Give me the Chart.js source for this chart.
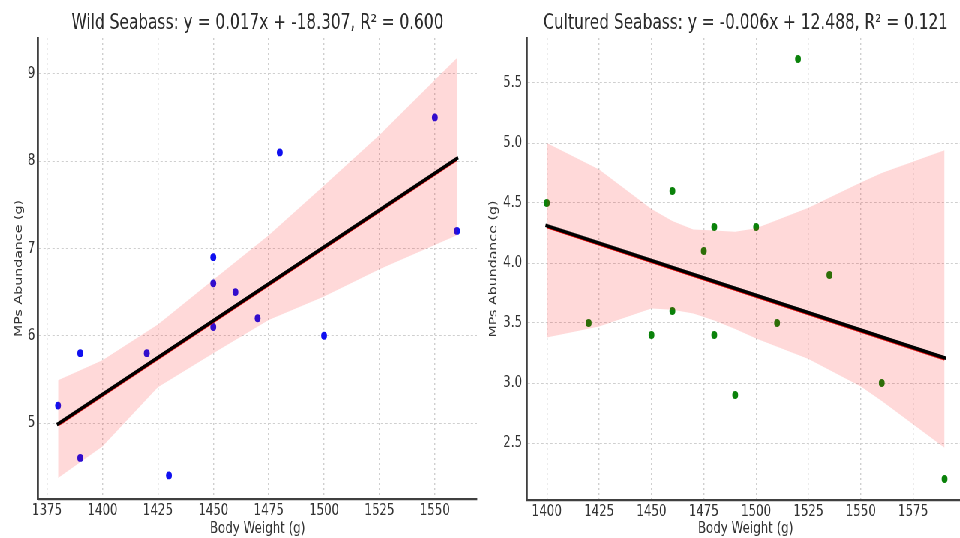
<!DOCTYPE html>
<html>
<head>
<meta charset="utf-8">
<title>Seabass MPs vs body weight</title>
<script src="https://cdn.jsdelivr.net/npm/chart.js@4.4.1/dist/chart.umd.min.js"></script>
<style>
    html, body { margin: 0; padding: 0; background: #fff; overflow: hidden; }
    /* the reference figure is squeezed sideways, so draw wide and squash */
    #fig { position: relative; width: 1280px; height: 538px; overflow: hidden; transform: scaleX(0.75); transform-origin: 0 0; }
    #wildChart { position: absolute; left: 0; top: 0; }
    #culturedChart { position: absolute; left: 640px; top: 0; }
</style>
</head>
<body>
<div id="fig">
    <canvas id="wildChart" width="640" height="560"></canvas>
    <canvas id="culturedChart" width="650" height="560"></canvas>
</div>
<script>
// Wild seabass
const wildTitle = 'Wild Seabass: y = 0.017x + -18.307, R² = 0.600';
const wildWeight = [1380, 1390, 1390, 1420, 1430, 1450, 1450, 1450, 1460, 1470, 1480, 1500, 1550, 1560];
const wildMPs = [5.2, 5.8, 4.6, 5.8, 4.4, 6.9, 6.6, 6.1, 6.5, 6.2, 8.1, 6.0, 8.5, 7.2];
const wildFitX = [1380, 1560];
const wildFitY = [4.99, 8.03];
const wildFitRedY = [4.98, 8.02];
const wildBandX = [1380, 1400, 1425, 1450, 1475, 1500, 1525, 1560];
const wildBandLow = [4.37, 4.73, 5.41, 5.80, 6.18, 6.45, 6.76, 7.15];
const wildBandHigh = [5.49, 5.72, 6.13, 6.64, 7.15, 7.72, 8.30, 9.18];
const wildXTicks = [1375, 1400, 1425, 1450, 1475, 1500, 1525, 1550];
const wildYTicks = [5, 6, 7, 8, 9];

// Cultured seabass
const culturedTitle = 'Cultured Seabass: y = -0.006x + 12.488, R² = 0.121';
const culturedWeight = [1400, 1420, 1450, 1460, 1460, 1475, 1480, 1480, 1490, 1500, 1510, 1520, 1535, 1560, 1590];
const culturedMPs = [4.5, 3.5, 3.4, 4.6, 3.6, 4.1, 4.3, 3.4, 2.9, 4.3, 3.5, 5.7, 3.9, 3.0, 2.2];
const culturedFitX = [1400, 1590];
const culturedFitY = [4.31, 3.21];
const culturedFitRedY = [4.303, 3.20];
const culturedBandX = [1400, 1425, 1450, 1460, 1470, 1480, 1490, 1500, 1525, 1550, 1560, 1590];
const culturedBandLow = [3.38, 3.47, 3.62, 3.61, 3.58, 3.52, 3.45, 3.37, 3.20, 2.97, 2.85, 2.46];
const culturedBandHigh = [5.00, 4.78, 4.45, 4.35, 4.28, 4.27, 4.26, 4.29, 4.46, 4.67, 4.75, 4.94];
const culturedXTicks = [1400, 1425, 1450, 1475, 1500, 1525, 1550, 1575];
const culturedYTicks = [2.5, 3.0, 3.5, 4.0, 4.5, 5.0, 5.5];

const xLabel = 'Body Weight (g)';
const yLabel = 'MPs Abundance (g)';

const FONT = 'DejaVu Sans';

function xy(xs, ys) {
    return xs.map((x, i) => ({ x: x, y: ys[i] }));
}

function makeChart(id, o) {
    const ctx = document.getElementById(id).getContext('2d');
    return new Chart(ctx, {
        type: 'line',
        data: {
            datasets: [
                { // CI band, filled down to the next dataset
                    data: xy(o.bandX, o.bandHigh),
                    borderWidth: 0, pointRadius: 0,
                    backgroundColor: 'rgba(255, 0, 0, 0.15)',
                    fill: '+1', order: 2
                },
                {
                    data: xy(o.bandX, o.bandLow),
                    borderWidth: 0, pointRadius: 0, fill: false, order: 3
                },
                {
                    data: xy(o.fitX, o.fitRedY),
                    borderColor: '#e00000', borderWidth: 3.2, pointRadius: 0, fill: false, order: 1
                },
                {
                    data: xy(o.fitX, o.fitY),
                    borderColor: '#000', borderWidth: 3.6, pointRadius: 0, fill: false, order: 0,
                    borderCapStyle: 'square'
                },
                {
                    data: xy(o.px, o.py),
                    showLine: false, pointRadius: 3.9, pointBorderWidth: 0,
                    pointBackgroundColor: o.dot, order: 4
                }
            ]
        },
        options: {
            responsive: false,
            animation: false,
            devicePixelRatio: 1,
            layout: { padding: { left: 0, right: o.padRight, top: 0, bottom: 0 } },
            plugins: {
                legend: { display: false },
                tooltip: { enabled: false },
                title: {
                    display: true, text: o.title, fullSize: false,
                    color: '#2a2a2a',
                    font: { family: FONT, size: 20.5, weight: 'normal' },
                    padding: { top: 11.4, bottom: 2 }
                }
            },
            scales: {
                x: {
                    type: 'linear', min: o.xMin, max: o.xMax,
                    afterBuildTicks: s => { s.ticks = o.xTicks.map(v => ({ value: v })); },
                    afterFit: s => { s.height = o.xHeight; },
                    grid: { color: '#cfcfcf', lineWidth: 1.4, drawTicks: false },
                    border: { display: true, color: '#404040', width: 2.2, dash: [2, 3] },
                    ticks: {
                        padding: 2.5, color: '#333', maxRotation: 0,
                        font: { family: FONT, size: 15.8 },
                        callback: v => String(v)
                    },
                    title: {
                        display: true, text: xLabel, color: '#333',
                        font: { family: FONT, size: 15.8 },
                        padding: { top: 0, bottom: 21.5 }
                    }
                },
                y: {
                    type: 'linear', min: o.yMin, max: o.yMax,
                    afterBuildTicks: s => { s.ticks = o.yTicks.map(v => ({ value: v })); },
                    afterFit: s => { s.width = o.yWidth; },
                    grid: { color: '#cfcfcf', lineWidth: 1, drawTicks: false },
                    border: { display: true, color: '#404040', width: 2.8, dash: [3, 3] },
                    ticks: {
                        padding: o.yTickPad, color: '#333',
                        font: { family: FONT, size: 15.8 },
                        callback: v => v.toFixed(o.yDigits)
                    },
                    title: {
                        display: true, text: yLabel, color: '#333',
                        font: { family: FONT, size: 14.2 },
                        padding: { top: o.yTitlePad, bottom: 0 }
                    }
                }
            }
        }
    });
}

makeChart('wildChart', {
    title: wildTitle,
    px: wildWeight, py: wildMPs, dot: '#1010f0',
    fitX: wildFitX, fitY: wildFitY, fitRedY: wildFitRedY,
    bandX: wildBandX, bandLow: wildBandLow, bandHigh: wildBandHigh,
    xTicks: wildXTicks, yTicks: wildYTicks, yDigits: 0,
    xMin: 1371, xMax: 1569, yMin: 4.13, yMax: 9.41,
    yWidth: 50.7, xHeight: 61, padRight: 1.3, yTickPad: 4, yTitlePad: 17
});

makeChart('culturedChart', {
    title: culturedTitle,
    px: culturedWeight, py: culturedMPs, dot: '#0a820a',
    fitX: culturedFitX, fitY: culturedFitY, fitRedY: culturedFitRedY,
    bandX: culturedBandX, bandLow: culturedBandLow, bandHigh: culturedBandHigh,
    xTicks: culturedXTicks, yTicks: culturedYTicks, yDigits: 1,
    xMin: 1390.5, xMax: 1599.5, yMin: 2.025, yMax: 5.875,
    yWidth: 62.7, xHeight: 60, padRight: 0, yTickPad: 6.5, yTitlePad: 9.6
});
</script>
</body>
</html>
